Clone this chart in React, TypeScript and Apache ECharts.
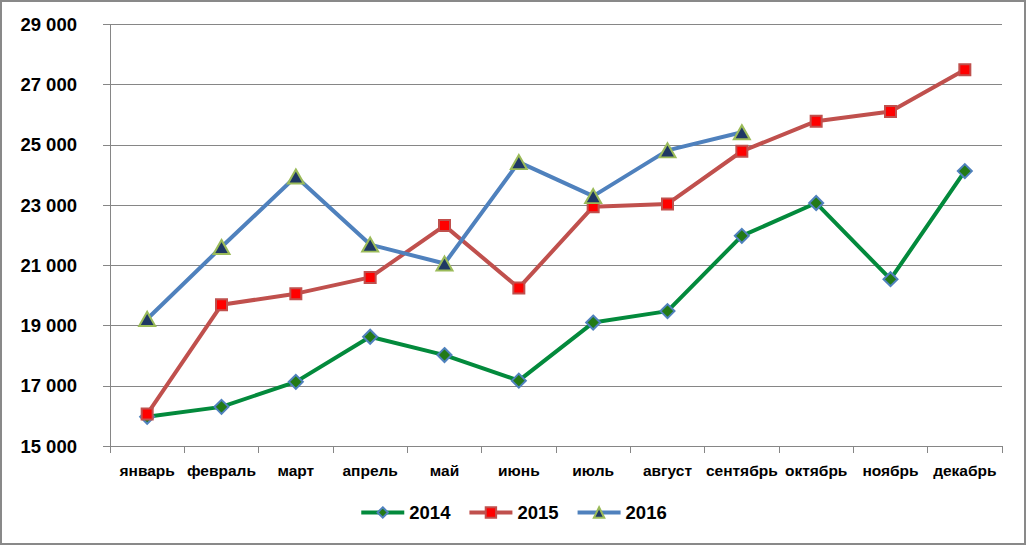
import React, { useEffect, useRef } from "react";
import * as echarts from "echarts";

const months = ["январь", "февраль", "март", "апрель", "май", "июнь", "июль", "август", "сентябрь", "октябрь", "ноябрь", "декабрь"];
const yTicksMin = 15000;
const yTicksMax = 29000;
const yTickStep = 2000;
const s2014 = [15970, 16300, 17130, 18630, 18020, 17170, 19100, 19480, 21980, 23070, 20540, 24130];
const s2015 = [16060, 19690, 20060, 20600, 22320, 20250, 22950, 23040, 24790, 25790, 26110, 27500];
const s2016 = [19220, 21610, 23950, 21690, 21060, 24430, 23300, 24820, 25420];

const FONT = "'Liberation Sans', Arial, sans-serif";

export default function App() {
  const ref = useRef<HTMLDivElement>(null);
  useEffect(() => {
    const chart = echarts.init(ref.current!, null, { renderer: "svg" });
    chart.setOption({
      animation: false,
      backgroundColor: "#ffffff",
      textStyle: { fontFamily: FONT },
      graphic: [
        {
          type: "rect",
          shape: { x: 1, y: 1, width: 1024, height: 543 },
          style: { fill: "none", stroke: "#898989", lineWidth: 2 },
          silent: true,
          z: 100,
        },
      ],
      grid: { left: 110, right: 24, top: 24.5, bottom: 99, containLabel: false },
      legend: {
        bottom: 18,
        left: "center",
        itemWidth: 43,
        itemHeight: 13,
        itemGap: 17,
        lineStyle: { width: 4 },
        textStyle: { fontFamily: FONT, fontSize: 18.5, fontWeight: "bold", color: "#000" },
        data: ["2014", "2015", "2016"],
      },
      xAxis: {
        type: "category",
        data: months,
        boundaryGap: true,
        axisLine: { lineStyle: { color: "#868686", width: 1 } },
        axisTick: { show: true, length: 7, lineStyle: { color: "#868686" }, alignWithLabel: false },
        axisLabel: { margin: 16, fontSize: 15.5, fontWeight: "bold", color: "#000", fontFamily: FONT, interval: 0 },
        splitLine: { show: false },
      },
      yAxis: {
        type: "value",
        min: yTicksMin,
        max: yTicksMax,
        interval: yTickStep,
        axisLine: { show: true, lineStyle: { color: "#868686", width: 1 } },
        axisTick: { show: true, length: 7, lineStyle: { color: "#868686" } },
        axisLabel: {
          margin: 33,
          fontSize: 18.5,
          fontWeight: "bold",
          color: "#000",
          fontFamily: FONT,
          formatter: (v: number) => String(v).replace(/\B(?=(\d{3})+(?!\d))/g, " "),
        },
        splitLine: { show: true, lineStyle: { color: "#868686", width: 1 } },
      },
      series: [
        {
          name: "2014",
          type: "line",
          data: s2014,
          symbol: "diamond",
          symbolSize: 14,
          lineStyle: { color: "#038a3c", width: 4 },
          itemStyle: { color: "#237a16", borderColor: "#4f81bd", borderWidth: 2 },
          z: 2,
        },
        {
          name: "2015",
          type: "line",
          data: s2015,
          symbol: "rect",
          symbolSize: 11,
          lineStyle: { color: "#c0504d", width: 4 },
          itemStyle: { color: "#ff0000", borderColor: "#c0504d", borderWidth: 2 },
          z: 3,
        },
        {
          name: "2016",
          type: "line",
          data: s2016,
          symbol: "triangle",
          symbolSize: [16, 14],
          lineStyle: { color: "#4f81bd", width: 4 },
          itemStyle: { color: "#1f3864", borderColor: "#9bbb59", borderWidth: 2 },
          z: 4,
        },
      ],
    });
    return () => chart.dispose();
  }, []);
  return (
    <div
      ref={ref}
      style={{ position: "absolute", left: 0, top: 0, width: 1026, height: 545 }}
    />
  );
}
